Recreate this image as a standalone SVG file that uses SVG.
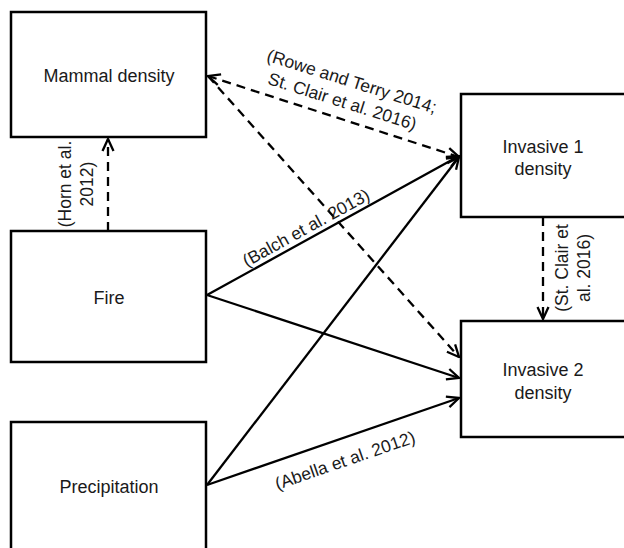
<svg xmlns="http://www.w3.org/2000/svg" width="624" height="548" viewBox="0 0 624 548">
<style>
.box{fill:#fff;stroke:#000;stroke-width:2.5}
.lbl{font-family:"Liberation Sans",Arial,sans-serif;font-size:18px;fill:#1a1a1a;text-anchor:middle}
.ref{font-family:"Liberation Sans",Arial,sans-serif;font-size:17.5px;fill:#1a1a1a;text-anchor:middle}
.solid{stroke:#000;stroke-width:2.3;fill:none;marker-end:url(#ah)}
.dash{stroke:#000;stroke-width:2.3;fill:none;stroke-dasharray:9 6;marker-end:url(#ah)}
</style>
<defs>
<marker id="ah" viewBox="0 0 14 14" refX="13" refY="7" markerWidth="14" markerHeight="14" markerUnits="userSpaceOnUse" orient="auto-start-reverse">
<path d="M1,1.5 L13,7 L1,12.5" fill="none" stroke="#000" stroke-width="2.3"/>
</marker>
</defs>
<rect width="624" height="548" fill="#fff"/>
<g id="mammal"><rect class="box" x="11" y="12" width="195" height="125"/><text class="lbl" x="109" y="82">Mammal density</text></g>
<g id="fire"><rect class="box" x="11" y="231" width="195" height="131"/><text class="lbl" x="109" y="304">Fire</text></g>
<g id="precip"><rect class="box" x="11" y="422" width="195" height="140"/><text class="lbl" x="109" y="493">Precipitation</text></g>
<g id="inv1"><rect class="box" x="461" y="94" width="200" height="123"/><text class="lbl" x="543" y="153">Invasive 1</text><text class="lbl" x="543" y="175">density</text></g>
<g id="inv2"><rect class="box" x="461" y="321" width="200" height="116"/><text class="lbl" x="543" y="376">Invasive 2</text><text class="lbl" x="543" y="399">density</text></g>
<g id="connectors">
<path class="dash" d="M108,231 L108,139"/>
<path class="dash" d="M543,217 L543,319"/>
<path class="dash" style="marker-start:url(#ah)" d="M208,76 L459,157"/>
<path class="dash" d="M208,76 L459,357"/>
<path class="solid" d="M207,295 L459,156"/>
<path class="solid" d="M207,295 L459,378"/>
<path class="solid" d="M207,485 L459,157"/>
<path class="solid" d="M207,485 L459,398"/>
</g>
<g id="labels">
<text class="ref" transform="translate(71,184) rotate(-90)">(Horn et al.<tspan x="0" dy="22">2012)</tspan></text>
<text class="ref" transform="translate(568,268) rotate(-90)">(St. Clair et<tspan x="0" dy="22">al. 2016)</tspan></text>
<text class="ref" transform="translate(350,87) rotate(17.5)">(Rowe and Terry 2014;<tspan x="-3" dy="22">St. Clair et al. 2016)</tspan></text>
<text class="ref" transform="translate(309,233) rotate(-28.8)">(Balch et al. 2013)</text>
<text class="ref" transform="translate(347,466) rotate(-19)">(Abella et al. 2012)</text>
</g>
</svg>
